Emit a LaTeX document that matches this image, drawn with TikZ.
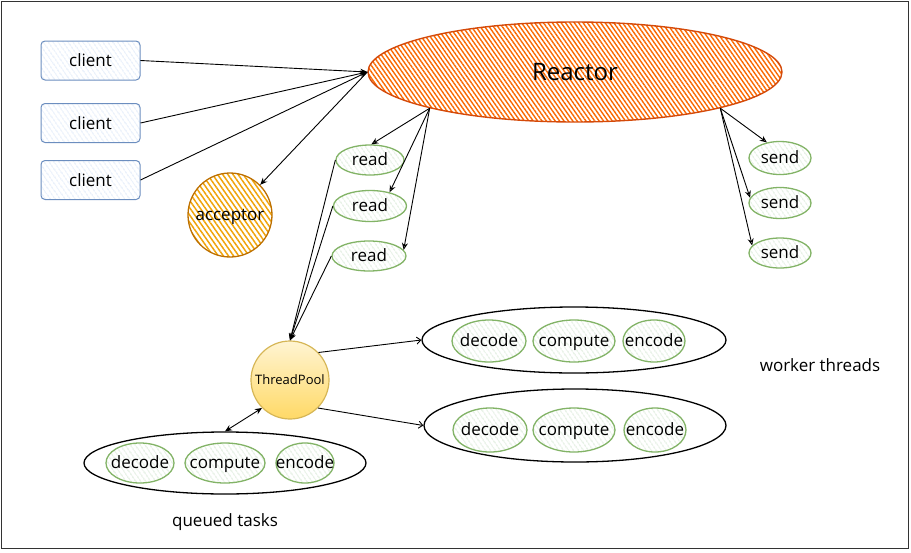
\documentclass[tikz,border=0pt]{standalone}
\usepackage{fontspec}
\setmainfont{Open Sans}
\usetikzlibrary{shapes.geometric,arrows.meta,patterns.meta}
\definecolor{reactorFill}{HTML}{FA6800}
\definecolor{reactorLine}{HTML}{D44A0A}
\definecolor{accFill}{HTML}{F0A30A}
\definecolor{accLine}{HTML}{BD7000}
\definecolor{cliLine}{HTML}{6C8EBF}
\definecolor{cliFill}{HTML}{C9DBF5}
\definecolor{grnLine}{HTML}{82B366}
\definecolor{grnFill}{HTML}{C4DEC2}
\definecolor{tpTop}{HTML}{FFF4D2}
\definecolor{tpBot}{HTML}{FFD966}
\definecolor{tpLine}{HTML}{D6B656}
\definecolor{frameCol}{HTML}{333333}
\newcommand\tx[1]{\raisebox{-0.32em}[0pt][0pt]{\makebox[0pt]{#1}}}
\tikzset{
  lbl/.style={font=\fontsize{17}{20}\selectfont, text=black},
  clientbox/.style={draw=cliLine, line width=1pt, rounded corners=4pt,
    pattern={Lines[angle=-55,distance=4pt,line width=0.8pt]}, pattern color=cliFill,
    minimum width=99pt, minimum height=39pt, inner sep=0pt, lbl},
  grn/.style={ellipse, draw=grnLine, line width=1.3pt,
    pattern={Lines[angle=-55,distance=4pt,line width=0.8pt]}, pattern color=grnFill,
    inner sep=0pt, lbl},
  worker/.style={ellipse, draw=black, line width=1.3pt, fill=white, inner sep=0pt},
  arr/.style={line width=0.9pt, -{Stealth[length=7pt,width=6pt]}},
  openarr/.style={line width=0.9pt, -{Stealth[open,length=7pt,width=6pt]}},
  barb/.style={line width=0.9pt, -{Straight Barb[length=4pt,width=7pt]}},
}
\begin{document}
\begin{tikzpicture}[x=1pt,y=-1pt]
\useasboundingbox (0,0) rectangle (911,552);
\draw[frameCol, line width=1.6pt] (1.5,1.5) rectangle (908.5,548.5);

% clients
\node[clientbox] (c1) at (90.5,60.5) {client};
\node[clientbox] (c2) at (90.5,123) {client};
\node[clientbox] (c3) at (90.5,180) {client};

% reactor
\node[ellipse, draw=reactorLine, line width=1.4pt,
  pattern={Lines[angle=-55,distance=3.6pt,line width=1.4pt]}, pattern color=reactorFill,
  minimum width=414pt, minimum height=100pt, inner sep=0pt,
  font=\fontsize{24}{28}\selectfont] (re) at (575,72) {Reactor};

% acceptor
\node[circle, draw=accLine, line width=1.3pt,
  pattern={Lines[angle=-55,distance=4.2pt,line width=1.5pt]}, pattern color=accFill,
  minimum size=84pt, inner sep=0pt, lbl] (acc) at (230,215) {\tx{acceptor}};

% reads
\node[grn, minimum width=68pt, minimum height=30pt] (r1) at (370,160) {\tx{read}};
\node[grn, minimum width=73pt, minimum height=31pt] (r2) at (370,206) {\tx{read}};
\node[grn, minimum width=74pt, minimum height=30pt] (r3) at (369,256) {\tx{read}};

% sends
\node[grn, minimum width=62pt, minimum height=33pt] (s1) at (780,158) {\tx{send}};
\node[grn, minimum width=62pt, minimum height=31pt] (s2) at (780,203) {\tx{send}};
\node[grn, minimum width=62pt, minimum height=30pt] (s3) at (780,253) {\tx{send}};

% thread pool
\node[circle, draw=tpLine, line width=1.2pt, top color=tpTop, bottom color=tpBot,
  minimum size=78pt, inner sep=0pt, font=\fontsize{13}{15}\selectfont] (tp) at (290,380) {ThreadPool};

% worker threads
\node[worker, minimum width=304pt, minimum height=66pt] (w1) at (574,340) {};
\node[worker, minimum width=302pt, minimum height=73pt] (w2) at (575,425.5) {};
\node[grn, minimum width=74pt, minimum height=42pt] (w1a) at (489,341) {\tx{decode}};
\node[grn, minimum width=82pt, minimum height=42pt] (w1b) at (574,341) {\tx{compute}};
\node[grn, minimum width=62pt, minimum height=42pt] (w1c) at (654,341) {\tx{encode}};
\node[grn, minimum width=74pt, minimum height=44pt] (w2a) at (490,430) {\tx{decode}};
\node[grn, minimum width=82pt, minimum height=44pt] (w2b) at (574,430) {\tx{compute}};
\node[grn, minimum width=62pt, minimum height=44pt] (w2c) at (655,430) {\tx{encode}};
\node[lbl] (wt) at (820,365) {worker threads};

% queued tasks
\node[worker, minimum width=282pt, minimum height=62pt] (q) at (225,463) {};
\node[grn, minimum width=68pt, minimum height=40pt] (qa) at (140,463) {\tx{decode}};
\node[grn, minimum width=80pt, minimum height=40pt] (qb) at (225,463) {\tx{compute}};
\node[grn, minimum width=58pt, minimum height=40pt] (qc) at (305,463) {\tx{encode}};
\node[lbl] (qt) at (225,522) {queued tasks};

% connectors
\draw[arr] (c1.east) -- (re.west);
\draw[arr] (c2.east) -- (re.west);
\draw[arr] (c3.east) -- (re.west);
\draw[arr] (re.west) -- (acc.45);

\draw[openarr] (re.194) -- (r1.85);
\draw[openarr] (re.194) -- (r2.35);
\draw[openarr] (re.194) -- (r3.10);

\draw[openarr] (re.346) -- (s1.130);
\draw[openarr] (re.346) -- (s2.170);
\draw[openarr] (re.346) -- (s3.165);

\draw[arr] (r1.west) -- (tp.north);
\draw[arr] (r2.west) -- (tp.north);
\draw[arr] (r3.west) -- (tp.north);

\draw[barb] (tp.44) -- (w1.west);
\draw[barb] (tp.-45) -- (w2.west);
\draw[line width=0.9pt, {Stealth[length=7pt,width=6pt]}-{Stealth[length=7pt,width=6pt]}] (q.north) -- (tp.225);
\end{tikzpicture}
\end{document}
